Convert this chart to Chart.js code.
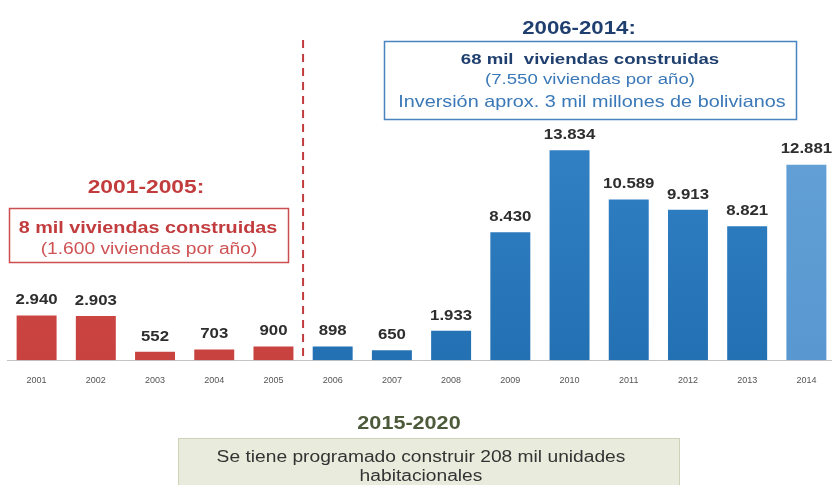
<!DOCTYPE html>
<html>
<head>
<meta charset="utf-8">
<script src="https://cdn.jsdelivr.net/npm/chart.js@4.4.0/dist/chart.umd.min.js"></script>
<style>
  html, body { margin: 0; padding: 0; background: #fff; overflow: hidden; }
  #wrap { position: relative; width: 832px; height: 485px; overflow: hidden; }
</style>
</head>
<body>
<!-- canvas a bit wider than the window: the last bar is clipped at the right edge in the source -->
<div id="wrap"><canvas id="viviendas" width="840" height="485"></canvas></div>
<script>
// data
const years = ['2001', '2002', '2003', '2004', '2005', '2006', '2007', '2008', '2009', '2010', '2011', '2012', '2013', '2014'];
const viviendas = [2940, 2903, 552, 703, 900, 898, 650, 1933, 8430, 13834, 10589, 9913, 8821, 12881];
const periodo = ['a', 'a', 'a', 'a', 'a', 'b', 'b', 'b', 'b', 'b', 'b', 'b', 'b', 'c'];

const fmt = v => String(v).replace(/\B(?=(\d{3})+(?!\d))/g, '.');
const SANS = '"Liberation Sans", Arial, sans-serif';
const STRETCH = 1.2; // the source text looks a bit wide

function text(c, str, x, y, size, bold, color) {
  c.save();
  c.translate(x, y);
  c.scale(STRETCH, 1);
  c.font = (bold ? 'bold ' : '') + size + 'px ' + SANS;
  c.fillStyle = color;
  c.textAlign = 'center';
  c.textBaseline = 'middle';
  c.fillText(str, 0, 0);
  c.restore();
}

function barColor(ctx) {
  const chart = ctx.chart;
  const area = chart.chartArea;
  const p = periodo[ctx.dataIndex];
  if (!area) return '#2b7bbf';
  const g = chart.ctx.createLinearGradient(0, area.top, 0, area.bottom);
  if (p === 'a') { g.addColorStop(0, '#d9524f'); g.addColorStop(1, '#c8423f'); }
  else if (p === 'b') { g.addColorStop(0, '#3a8ad0'); g.addColorStop(1, '#2371b3'); }
  else { g.addColorStop(0, '#68a6da'); g.addColorStop(1, '#5897d0'); }
  return g;
}

// value labels above bars
const valueLabels = {
  id: 'valueLabels',
  afterDatasetsDraw(chart) {
    const meta = chart.getDatasetMeta(0);
    meta.data.forEach((bar, i) => {
      text(chart.ctx, fmt(viviendas[i]), bar.x, bar.y - 15, 14, true, '#2e2e2e');
    });
  }
};

// divider, period boxes and notes
const notes = {
  id: 'notes',
  afterDraw(chart) {
    const c = chart.ctx;
    const x = chart.scales.x;
    const area = chart.chartArea;
    const divX = (x.getPixelForValue(4) + x.getPixelForValue(5)) / 2;
    c.save();

    c.strokeStyle = '#c23b3d';
    c.lineWidth = 2;
    c.setLineDash([8, 6]);
    c.beginPath();
    c.moveTo(divX, 40);
    c.lineTo(divX, area.bottom);
    c.stroke();
    c.setLineDash([]);

    // 2006-2014
    text(c, '2006-2014:', 579, 29, 18.5, true, '#1f3f6e');
    c.strokeStyle = '#4a84c0';
    c.lineWidth = 1.5;
    c.strokeRect(384.5, 41.5, 412, 78);
    text(c, '68 mil  viviendas construidas', 590, 60, 15.5, true, '#1f3f6e');
    text(c, '(7.550 viviendas por año)', 590, 80, 15.5, false, '#3a78b8');
    text(c, 'Inversión aprox. 3 mil millones de bolivianos', 592, 102, 16.5, false, '#3a78b8');

    // 2001-2005
    text(c, '2001-2005:', 146, 188, 19, true, '#c23b3d');
    c.strokeStyle = '#cc4e50';
    c.strokeRect(9.5, 208.5, 279, 54);
    text(c, '8 mil viviendas construidas', 148, 228, 16.5, true, '#c23b3d');
    text(c, '(1.600 viviendas por año)', 149, 250, 16, false, '#cf5254');

    // 2015-2020
    text(c, '2015-2020', 409, 424, 18, true, '#4c5a3a');
    c.fillStyle = '#e9ecdc';
    c.fillRect(178, 438, 502, 47);
    c.strokeStyle = '#cdd3b8';
    c.lineWidth = 1;
    c.strokeRect(178.5, 438.5, 501, 52);
    text(c, 'Se tiene programado construir 208 mil unidades', 421, 458, 16, false, '#333');
    text(c, 'habitacionales', 421, 477, 16, false, '#333');

    c.restore();
  }
};

new Chart(document.getElementById('viviendas'), {
  type: 'bar',
  data: {
    labels: years,
    datasets: [
      {
        label: 'Viviendas construidas',
        data: viviendas,
        backgroundColor: barColor,
        borderWidth: 0,
        categoryPercentage: 1,
        barPercentage: 0.675,
      },
    ],
  },
  options: {
    responsive: false,
    animation: false,
    layout: { padding: { top: 11, left: 7, right: 4, bottom: 84 } },
    plugins: { legend: { display: false }, tooltip: { enabled: false } },
    scales: {
      x: {
        grid: { display: false, drawTicks: false },
        border: { color: '#c4c4c4', width: 1 },
        ticks: { color: '#555', font: { size: 9, family: SANS }, padding: 15 },
      },
      y: { display: false, min: 0, max: 23000 },
    },
  },
  plugins: [valueLabels, notes],
});
</script>
</body>
</html>
